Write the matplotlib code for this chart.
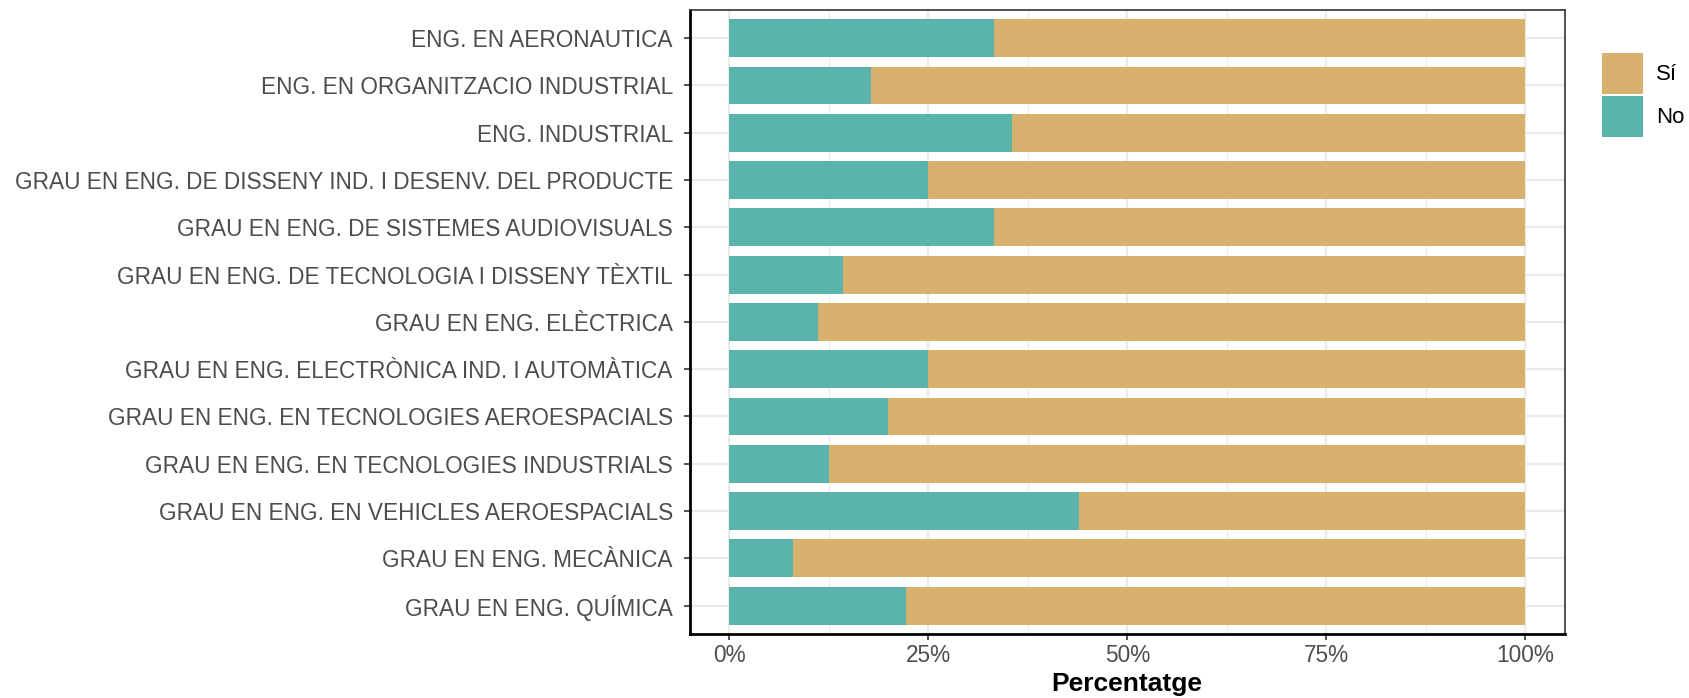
#!/usr/bin/env python3
"""Barres apilades al 100%: percentatge de Sí / No per titulació."""

import matplotlib
matplotlib.use("Agg")
import matplotlib.pyplot as plt
from matplotlib.patches import Patch
from matplotlib.ticker import FixedLocator, PercentFormatter
import numpy as np

plt.rcParams["font.family"] = ["Liberation Sans", "DejaVu Sans"]

# colors
COLOR_SI = "#D8B16F"
COLOR_NO = "#5AB4AC"
TEXT_GREY = "#4D4D4D"
GRID_GREY = "#EBEBEB"

titulacions = [
    "ENG. EN AERONAUTICA",
    "ENG. EN ORGANITZACIO INDUSTRIAL",
    "ENG. INDUSTRIAL",
    "GRAU EN ENG. DE DISSENY IND. I DESENV. DEL PRODUCTE",
    "GRAU EN ENG. DE SISTEMES AUDIOVISUALS",
    "GRAU EN ENG. DE TECNOLOGIA I DISSENY TÈXTIL",
    "GRAU EN ENG. ELÈCTRICA",
    "GRAU EN ENG. ELECTRÒNICA IND. I AUTOMÀTICA",
    "GRAU EN ENG. EN TECNOLOGIES AEROESPACIALS",
    "GRAU EN ENG. EN TECNOLOGIES INDUSTRIALS",
    "GRAU EN ENG. EN VEHICLES AEROESPACIALS",
    "GRAU EN ENG. MECÀNICA",
    "GRAU EN ENG. QUÍMICA",
]
pct_no = [0.333, 0.178, 0.355, 0.25, 0.333, 0.143, 0.111,
          0.25, 0.20, 0.125, 0.44, 0.08, 0.222]
pct_si = [1 - v for v in pct_no]

fig = plt.figure(figsize=(16.9, 6.98), dpi=100)
ax = fig.add_axes([0.408, 0.0917, 0.518, 0.8943])

y = np.arange(len(titulacions), 0, -1)
ax.barh(y, pct_no, height=0.8, color=COLOR_NO, zorder=2)
ax.barh(y, pct_si, left=pct_no, height=0.8, color=COLOR_SI, zorder=2)

ax.set_xlim(-0.05, 1.05)
ax.set_ylim(0.4, len(titulacions) + 0.6)
ax.set_yticks(y)
ax.set_yticklabels(titulacions)
ax.xaxis.set_major_locator(FixedLocator([0, 0.25, 0.5, 0.75, 1.0]))
ax.xaxis.set_minor_locator(FixedLocator([0.125, 0.375, 0.625, 0.875]))
ax.xaxis.set_major_formatter(PercentFormatter(1.0, decimals=0))

ax.grid(True, which="major", color=GRID_GREY, lw=1.6, zorder=0)
ax.grid(True, which="minor", axis="x", color=GRID_GREY, lw=0.8, zorder=0)
ax.set_axisbelow(True)

ax.tick_params(axis="both", which="major", labelsize=16.3, labelcolor=TEXT_GREY,
               color="#333333", length=4.5, width=1.2)
ax.tick_params(axis="y", which="major", pad=7.5)
ax.tick_params(axis="x", which="major", pad=3)
ax.tick_params(axis="both", which="minor", length=0)

for side in ("left", "bottom"):
    ax.spines[side].set_linewidth(2.0)
    ax.spines[side].set_color("black")
for side in ("top", "right"):
    ax.spines[side].set_linewidth(1.2)
    ax.spines[side].set_color("#333333")

ax.set_xlabel("Percentatge", fontsize=19, fontweight="bold", labelpad=3)

handles = [Patch(facecolor=COLOR_SI, label="Sí"),
           Patch(facecolor=COLOR_NO, label="No")]
ax.legend(handles=handles, loc="upper left", bbox_to_anchor=(1.042, 0.931),
          frameon=False, fontsize=16, handlelength=1.85, handleheight=2.46,
          labelspacing=0.1, handletextpad=0.6, borderaxespad=0, borderpad=0)

fig.savefig("out.png", dpi=100)
